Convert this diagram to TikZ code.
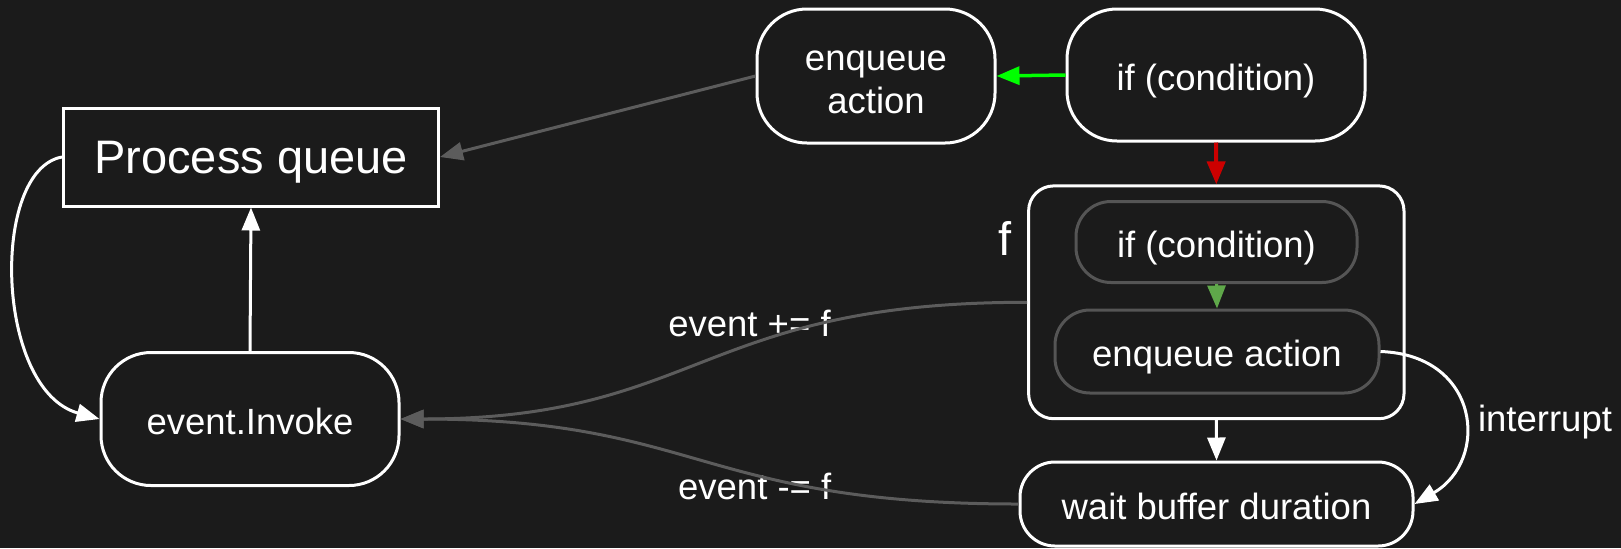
\documentclass[tikz,border=0pt]{standalone}
\usepackage{fontspec}
\setmainfont{Liberation Sans}
\usetikzlibrary{arrows.meta,positioning}
\definecolor{bgc}{HTML}{1B1B1B}
\definecolor{edgegrey}{HTML}{5C5C5C}
\definecolor{boxgrey}{HTML}{555555}
\definecolor{okgreen}{HTML}{00FF00}
\definecolor{softgreen}{HTML}{5FA84A}
\definecolor{failred}{HTML}{CC0000}

\begin{document}
\begin{tikzpicture}[x=0.5pt,y=-0.5pt,
    box/.style={draw=white,line width=1.5pt,fill=bgc,text=white,align=center,inner sep=0pt,
        text height=15.3pt,text depth=0pt,font=\fontsize{18.25}{21.5}\selectfont},
    inbox/.style={box,draw=boxgrey,rounded corners=17.5pt},
    edge/.style={line width=1.5pt,-{Triangle[length=11.5pt,width=9pt]}},
    lbl/.style={text=white,inner sep=0pt,font=\fontsize{18.25}{21.5}\selectfont}]

    \fill[bgc] (0,0) rectangle (1621,548);
    \useasboundingbox (0,0) rectangle (1621,548);

    \node[box,minimum width=187.5pt,minimum height=49pt,text height=16pt,font=\fontsize{23.5}{28}\selectfont] (queue) at (251,157) {Process queue};
    \node[box,rounded corners=25pt,minimum width=149pt,minimum height=66.5pt] (invoke) at (250,419) {event.Invoke};
    \node[box,rounded corners=25pt,minimum width=119pt,minimum height=67pt,text height=37pt] (enq) at (876,76) {enqueue\\action};
    \node[box,rounded corners=25pt,minimum width=149pt,minimum height=66pt] (cond) at (1216,75) {if (condition)};

    \node[box,rounded corners=12.5pt,minimum width=187.7pt,minimum height=116.4pt] (fbox) at (1216.3,302.3) {};
    \node[lbl,font=\fontsize{23.5}{28}\selectfont] (flabel) at (1005,238) {f};
    \node[inbox,minimum width=140.5pt,minimum height=40.5pt] (icond) at (1216.5,242) {if (condition)};
    \node[inbox,minimum width=162pt,minimum height=41.5pt] (ienq) at (1217,351.5) {enqueue action};
    \node[box,rounded corners=17.5pt,minimum width=196.5pt,minimum height=42pt] (wait) at (1216.5,504) {wait buffer duration};

    \node[lbl] (addlbl) at (749.5,323.6) {event += f};
    \node[lbl] (sublbl) at (754.7,486) {event -= f};
    \node[lbl] (intlbl) at (1545,422) {interrupt};

    \draw[edge,edgegrey] (enq.west) -- (queue.east);
    \draw[edge,okgreen,line width=1.75pt] (cond.west) -- (enq.east);
    \draw[edge,failred,line width=2pt] (cond.south) -- (fbox.north);
    \draw[edge,softgreen] (icond.south) -- (ienq.north);
    \draw[edge,white] (fbox.south) -- (wait.north);
    \draw[edge,white] (ienq.east) .. controls (1480,355) and (1490,460) .. (wait.east);
    \draw[edge,edgegrey] (fbox.west) .. controls (700,302) and (700,419) .. (invoke.east);
    \draw[edge,edgegrey] (wait.west) .. controls (700,504) and (700,419) .. (invoke.east);
    \draw[edge,white] (queue.west) .. controls (-10,170) and (-5,390) .. (invoke.west);
    \draw[edge,white] (invoke.north) -- (queue.south);

\end{tikzpicture}
\end{document}
